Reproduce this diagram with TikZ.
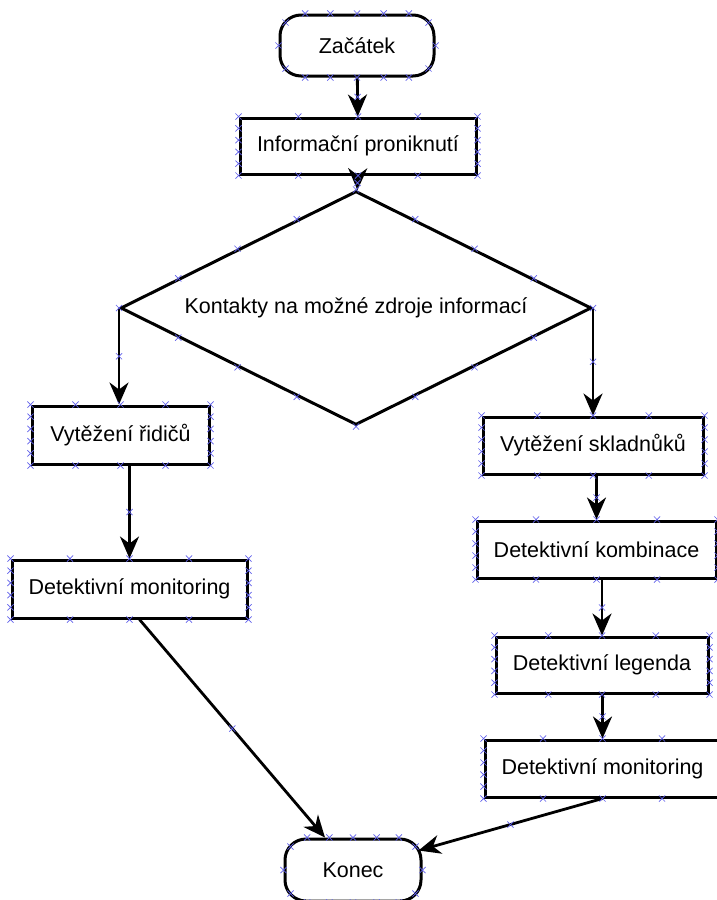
\documentclass[tikz,border=0pt]{standalone}
\usepackage{fontspec}
\setmainfont{Liberation Sans}
\usetikzlibrary{
    arrows.meta,
    shapes.geometric,
    shapes.misc,
    calc
}
\definecolor{portblue}{RGB}{96,96,235}
\newcommand{\boxports}[1]{%
    \foreach \f in {0,0.25,0.5,0.75,1} {
        \node[xm] at ($(#1.north west)!\f!(#1.north east)$) {};
        \node[xm] at ($(#1.south west)!\f!(#1.south east)$) {};
    }
    \foreach \f in {0.2,0.4,0.6,0.8} {
        \node[xm] at ($(#1.north west)!\f!(#1.south west)$) {};
        \node[xm] at ($(#1.north east)!\f!(#1.south east)$) {};
    }}
\newcommand{\termports}[1]{%
    \foreach \f in {0.17,0.33,0.5,0.67,0.83} {
        \node[xm] at ($(#1.north west)!\f!(#1.north east)$) {};
        \node[xm] at ($(#1.south west)!\f!(#1.south east)$) {};
    }
    \node[xm] at (#1.west) {};
    \node[xm] at (#1.east) {};
    \node[xm] at ($(#1.north west)+(7,9)$) {};
    \node[xm] at ($(#1.north east)+(-7,9)$) {};
    \node[xm] at ($(#1.south west)+(7,-9)$) {};
    \node[xm] at ($(#1.south east)+(-7,-9)$) {};}
\newcommand{\diaports}[1]{%
    \foreach \a/\b in {north/west,west/south,south/east,east/north} {
        \foreach \f in {0,0.25,0.5,0.75} {
            \node[xm] at ($(#1.\a)!\f!(#1.\b)$) {};
        }
    }}

\begin{document}
\begin{tikzpicture}[x=1pt, y=-1pt,
        font=\fontsize{21.5}{26}\selectfont,
        stepbox/.style={draw, line width=3pt, inner sep=0pt},
        terminal/.style={stepbox, rounded corners=21pt},
        decision/.style={stepbox, diamond, aspect=2},
        flow/.style={-{Stealth[length=22pt, width=19pt, inset=7pt]}, line width=2.8pt},
        xm/.style={cross out, draw=portblue, line width=0.7pt, inner sep=0pt, minimum size=5.5pt}]
    \useasboundingbox (0, 0) rectangle (717, 900);

    \node[terminal, minimum width=154, minimum height=61] (start) at (357, 45.5) {Začátek};
    \node[stepbox, minimum width=236, minimum height=56] (info) at (358, 146) {Informační proniknutí};
    \node[decision, minimum width=471, minimum height=234] (dec) at (356, 308) {Kontakty na možné zdroje informací};
    \node[stepbox, minimum width=177, minimum height=58] (lt1) at (120.5, 435) {Vytěžení řidičů};
    \node[stepbox, minimum width=235, minimum height=58] (lt2) at (129.5, 589) {Detektivní monitoring};
    \node[stepbox, minimum width=220, minimum height=57] (rt1) at (593, 445.5) {Vytěžení skladnůků};
    \node[stepbox, minimum width=239, minimum height=57] (rt2) at (596.5, 549.5) {Detektivní kombinace};
    \node[stepbox, minimum width=212, minimum height=56] (rt3) at (602, 665) {Detektivní legenda};
    \node[stepbox, minimum width=235, minimum height=57] (rt4) at (602.5, 768.5) {Detektivní monitoring};
    \node[terminal, minimum width=136, minimum height=62] (end) at (353, 870) {Konec};

    \draw
    (start) edge[flow] node[xm] {} (info)
    (info) edge[flow] node[xm] {} (dec)
    (dec.west) edge[flow] node[xm] {} (dec.west |- lt1.north)
    (dec.east) edge[flow] node[xm] {} (dec.east |- rt1.north)
    (lt2.north |- lt1.south) edge[flow] node[xm] {} (lt2.north)
    (rt2.north |- rt1.south) edge[flow] node[xm] {} (rt2.north)
    (rt3.north |- rt2.south) edge[flow] node[xm] {} (rt3.north)
    (rt4.north |- rt3.south) edge[flow] node[xm] {} (rt4.north)
    ([xshift=10pt]lt2.south) edge[flow] node[xm] {} ([xshift=-28pt]end.north)
    (rt4.south) edge[flow] node[xm] {} ([shift={(-4pt,-13pt)}]end.north east);

    \termports{start}
    \termports{end}
    \diaports{dec}
    \foreach \n in {info,lt1,lt2,rt1,rt2,rt3,rt4} {
        \boxports{\n}
    }
\end{tikzpicture}
\end{document}
